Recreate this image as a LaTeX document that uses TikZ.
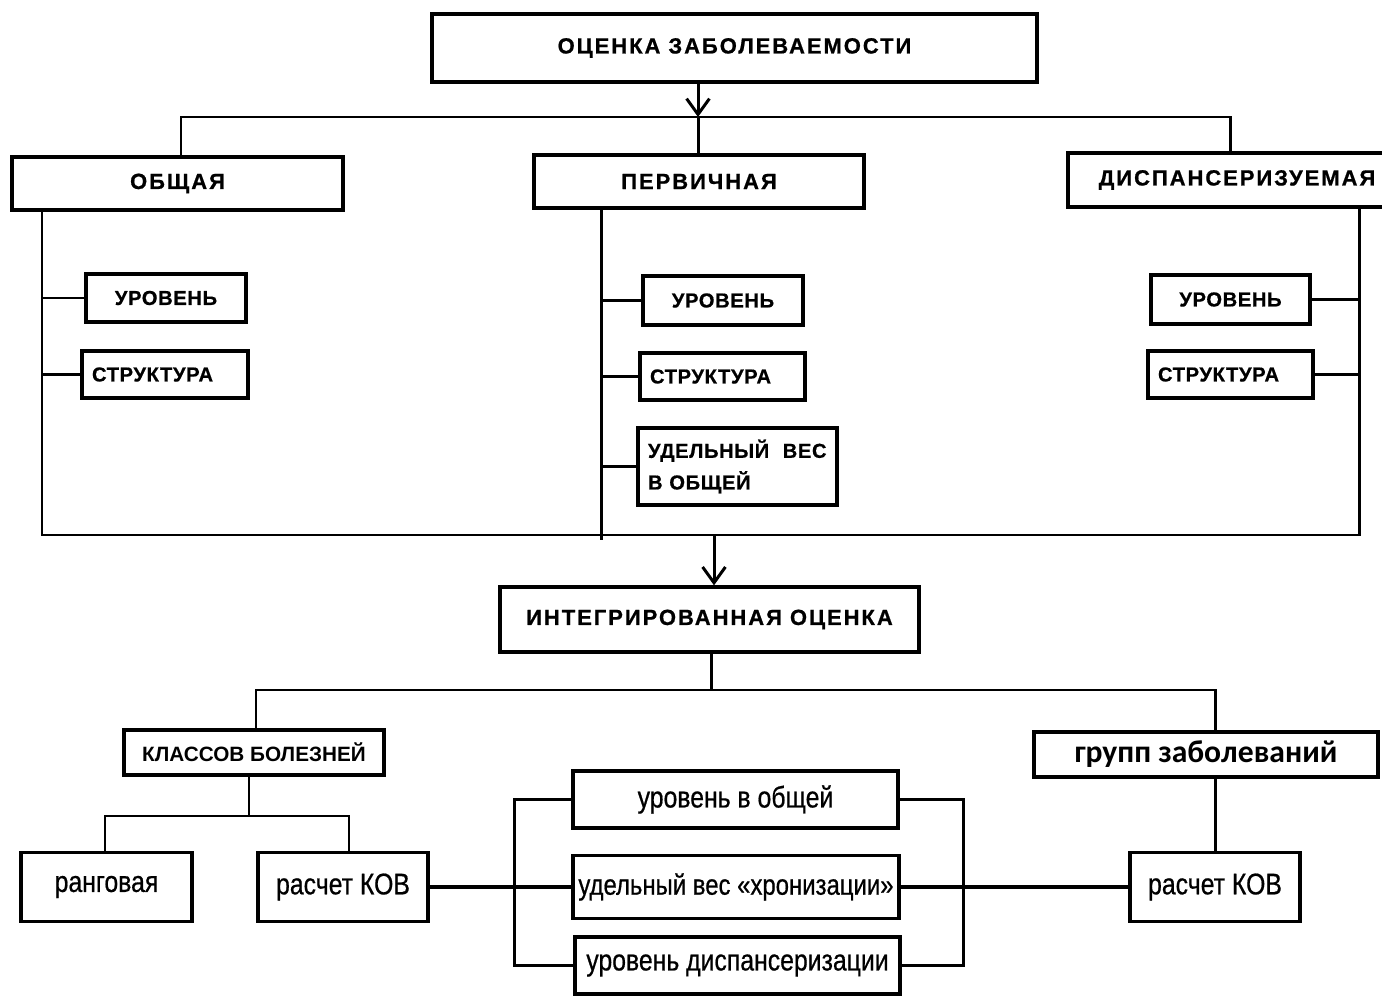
\documentclass[tikz,border=0pt]{standalone}
\usepackage{fontspec}
\setmainfont{Liberation Sans}
\newfontfamily\capsfont[LetterSpace=9, FakeBold=0.8]{Liberation Sans}
\newfontfamily\smallcapsfont[LetterSpace=3, FakeBold=0.6]{Liberation Sans}
\newfontfamily\narrowfont[FakeStretch=0.83, FakeBold=0.6]{Liberation Sans}
\newfontfamily\calfont{Carlito}
\usepackage{tikz}
\usetikzlibrary{arrows.meta}
\tikzstyle{base}=[x=0.02cm, y=-0.02cm, line width=1.7pt]
\tikzstyle{box}=[draw, line width=1.9pt, rectangle, inner sep=0pt]
\tikzstyle{bigbox}=[box, font=\capsfont\bfseries\fontsize{12.5}{15}\selectfont]
\tikzstyle{smallbox}=[box, font=\smallcapsfont\bfseries\fontsize{11.5}{14}\selectfont]
\tikzstyle{lowbox}=[box, font=\narrowfont\fontsize{17}{20}\selectfont]
\tikzstyle{arr}=[-{Straight Barb[length=9pt, width=13pt]}]
\tikzstyle{fat}=[line width=2.6pt]
\tikzset{dim/.style 2 args={minimum width=#1*0.02cm, minimum height=#2*0.02cm},
    lbox/.style 2 args={dim={#1}{#2}, align=left, text width=#1*0.02cm-0.4cm}}

\begin{document}
\begin{tikzpicture}[base]
    \path [use as bounding box] (0,0) rectangle (1382,996);
        \node [bigbox, dim={605}{68}] (ocenka) at (734.5,48) {ОЦЕНКА ЗАБОЛЕВАЕМОСТИ};
        \node [bigbox, dim={331}{53}] (obsh) at (177.5,183.5) {ОБЩАЯ};
        \node [bigbox, dim={330}{53}] (perv) at (699,181.5) {ПЕРВИЧНАЯ};
        \node [bigbox, dim={338}{54}] (disp) at (1237,180) {ДИСПАНСЕРИЗУЕМАЯ};
        \node [smallbox, dim={160}{48}] (obur) at (166,298) {УРОВЕНЬ};
        \node [smallbox, lbox={166}{47}] (obst) at (165,374.5) {СТРУКТУРА};
        \node [smallbox, dim={160}{49}] (pvur) at (723,300.5) {УРОВЕНЬ};
        \node [smallbox, lbox={165}{47}] (pvst) at (722.5,376.5) {СТРУКТУРА};
        \node [smallbox, lbox={199}{77}] (pvud) at (737.5,466.5) {УДЕЛЬНЫЙ\ \ ВЕС\\[4pt]В ОБЩЕЙ};
        \node [smallbox, dim={159}{49}] (dsur) at (1230.5,299.5) {УРОВЕНЬ};
        \node [smallbox, lbox={165}{47}] (dsst) at (1230.5,374.5) {СТРУКТУРА};
        \node [bigbox, dim={419}{65}] (integ) at (709.5,619.5) {ИНТЕГРИРОВАННАЯ ОЦЕНКА};
        \node [box, dim={260}{45}, font=\bfseries\fontsize{11.8}{14}\selectfont] (klass) at (254,752.5) {КЛАССОВ БОЛЕЗНЕЙ};
        \node [box, dim={344}{45}, font=\calfont\bfseries\fontsize{18}{21}\selectfont] (grupp) at (1206,754.5) {групп заболеваний};
        \node [lowbox, dim={171}{69}] (rang) at (106.5,887) {ранговая};
        \node [lowbox, dim={170}{69}] (kov1) at (343,887) {расчет КОВ};
        \node [lowbox, dim={325}{57}] (m1) at (735.5,799.5) {уровень в общей};
        \node [lowbox, dim={326}{63}, font=\narrowfont\fontsize{16.4}{19}\selectfont] (m2) at (736,887) {удельный вес «хронизации»};
        \node [lowbox, dim={325}{57}] (m3) at (737.5,965.5) {уровень диспансеризации};
        \node [lowbox, dim={170}{69}] (kov2) at (1215,887) {расчет КОВ};
        \coordinate (bus1) at (698,117);
        \coordinate (bus1l) at (181,117);
        \coordinate (bus1r) at (1230,117);
        \draw [arr] (ocenka.south -| bus1) -- (bus1);
        \draw (obsh.north -| bus1l) -- (bus1l) -- (bus1r) -- (disp.north -| bus1r);
        \draw (bus1) -- (perv.north -| bus1);
        \coordinate (bus2l) at (42,535);
        \coordinate (bus2r) at (1359,535);
        \coordinate (bus2m) at (601,540);
        \coordinate (bus2a) at (714,535);
        \draw (obsh.south -| bus2l) -- (bus2l) -- (bus2r) -- (disp.south -| bus2r);
        \draw (perv.south -| bus2m) -- (bus2m);
        \draw (obur.west) -- (obur.west -| bus2l);
        \draw (obst.west) -- (obst.west -| bus2l);
        \draw (pvur.west) -- (pvur.west -| bus2m);
        \draw (pvst.west) -- (pvst.west -| bus2m);
        \draw (pvud.west) -- (pvud.west -| bus2m);
        \draw (dsur.east) -- (dsur.east -| bus2r);
        \draw (dsst.east) -- (dsst.east -| bus2r);
        \draw [arr] (bus2a) -- (integ.north -| bus2a);
        \coordinate (bus3) at (711,690);
        \coordinate (bus3l) at (256,690);
        \coordinate (bus3r) at (1215,690);
        \draw (integ.south -| bus3) -- (bus3);
        \draw (klass.north -| bus3l) -- (bus3l) -- (bus3r) -- (grupp.north -| bus3r);
        \coordinate (bus4) at (249,816);
        \coordinate (bus4l) at (105,816);
        \coordinate (bus4r) at (349,816);
        \draw (klass.south -| bus4) -- (bus4);
        \draw (rang.north -| bus4l) -- (bus4l) -- (bus4r) -- (kov1.north -| bus4r);
        \coordinate (brl) at (514,887);
        \coordinate (brr) at (963,887);
        \draw (m1.west) -| (brl) |- (m3.west);
        \draw (m1.east) -| (brr) |- (m3.east);
        \draw [fat] (kov1.east) -- (m2.west);
        \draw [fat] (m2.east) -- (kov2.west);
        \draw (grupp.south -| kov2.north) -- (kov2.north);
    \end{tikzpicture}
\end{document}
